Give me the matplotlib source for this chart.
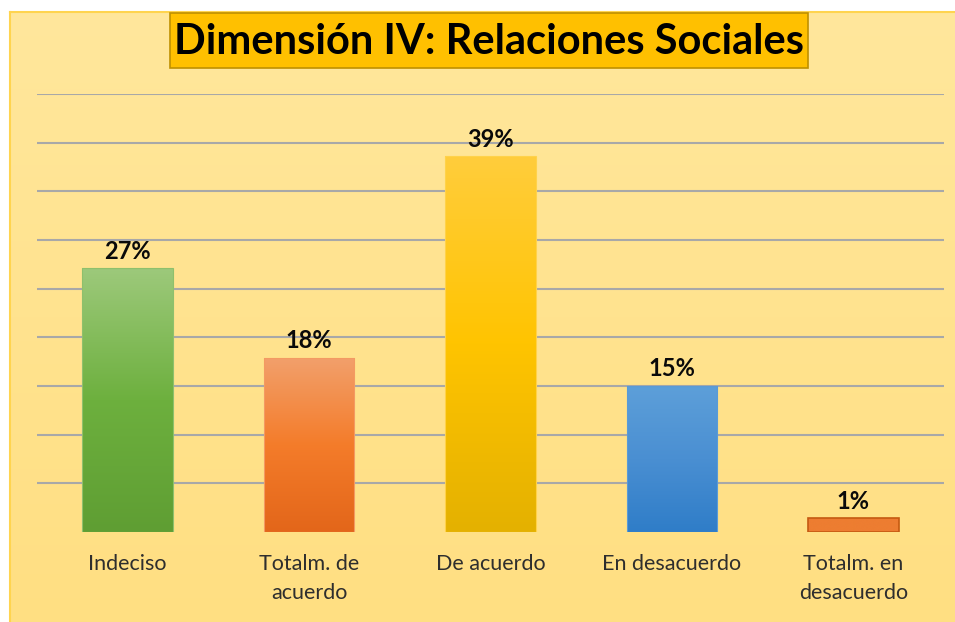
import numpy as np
import matplotlib.pyplot as plt
from matplotlib.patches import Rectangle
from matplotlib.colors import LinearSegmentedColormap

# --- data ---
categories = ["Indeciso", "Totalm. de\nacuerdo", "De acuerdo", "En desacuerdo", "Totalm. en\ndesacuerdo"]
values = [27.1, 17.9, 38.6, 15.0, 1.4]
title = "Dimensión IV: Relaciones Sociales"

# gradient colours for each bar (top, middle, bottom)
bar_colors = [
    ("#9dc97b", "#6db03e", "#5f9e33"),
    ("#f2a06c", "#f47c2a", "#e3661a"),
    ("#ffcd3c", "#ffc400", "#e4b100"),
    ("#5d9fd9", "#4a8fd2", "#2f7dc8"),
    ("#ed7d31", "#ed7d31", "#ed7d31"),
]
edge_colors = ["#8fc06c", "#f39a63", "#ffd24a", "#5a9ad6", "#c55a11"]

W, H = 955, 622
fig = plt.figure(figsize=(W / 100, H / 100), dpi=100)
fig.patch.set_facecolor("white")

# chart area background (light yellow, subtle gradient)
bg = fig.add_axes([10 / W, 0, (W - 10) / W, (H - 12) / H])
bg_grad = LinearSegmentedColormap.from_list("bg", ["#ffe79c", "#ffdf82"])
bg.imshow(np.linspace(0, 1, 256).reshape(-1, 1), aspect="auto", cmap=bg_grad,
          extent=[0, 1, 0, 1])
bg.set_xlim(0, 1)
bg.set_ylim(0, 1)
bg.axis("off")
bg.plot([0, 0], [0, 1], color="#ffd44f", lw=1.5, transform=bg.transAxes, clip_on=False)
bg.plot([0, 1], [1, 1], color="#ffd44f", lw=1.5, transform=bg.transAxes, clip_on=False)

# main axes
ax = fig.add_axes([37 / W, (H - 532) / H, (944 - 37) / W, (532 - 94) / H])
ax.set_facecolor("none")
x = np.arange(len(categories))
ax.set_xlim(-0.5, len(categories) - 0.5)
ax.set_ylim(0, 45)
ax.set_yticks(np.arange(5, 46, 5))
ax.yaxis.grid(True, color="#a8a8a8", lw=1.5)
ax.set_axisbelow(True)
for s in ax.spines.values():
    s.set_visible(False)
ax.tick_params(left=False, bottom=False, labelleft=False)
ax.set_xticks(x)
ax.set_xticklabels(categories, fontsize=15.5, color="#2e2e2e", family="Lato",
                   linespacing=1.6)
ax.tick_params(axis="x", pad=12)

bars = ax.bar(x, values, width=0.5, color="none", zorder=2)
for i, (b, v) in enumerate(zip(bars, values)):
    top, mid, bot = bar_colors[i]
    cmap = LinearSegmentedColormap.from_list(f"g{i}", [bot, mid, top])
    grad = np.linspace(0, 1, 256).reshape(-1, 1)
    x0 = b.get_x()
    im = ax.imshow(grad, aspect="auto", cmap=cmap, origin="lower",
                   extent=[x0, x0 + b.get_width(), 0, v], zorder=2)
    im.set_clip_path(b)
    b.set_edgecolor(edge_colors[i])
    b.set_linewidth(1.2 if i == 4 else 0.8)
    b.set_zorder(3)
    ax.annotate(f"{v:.0f}%", (b.get_x() + b.get_width() / 2, v),
                xytext=(0, 4), textcoords="offset points", ha="center", va="bottom",
                fontsize=17, fontweight="bold", family="Lato", color="#0a0a0a", zorder=4)

ax.set_xlim(-0.5, len(categories) - 0.5)
ax.set_ylim(0, 45)

# title box
fig.patches.append(Rectangle((170 / W, (H - 68) / H), (808 - 170) / W, (68 - 13) / H,
                             transform=fig.transFigure, facecolor="#ffc000",
                             edgecolor="#bf9000", lw=1.2, zorder=5))
fig.text(489 / W, (H - 42) / H, title, ha="center", va="center", fontsize=30,
         fontweight="bold", family="Lato", color="black", zorder=6)

fig.savefig("out.png", dpi=100)
